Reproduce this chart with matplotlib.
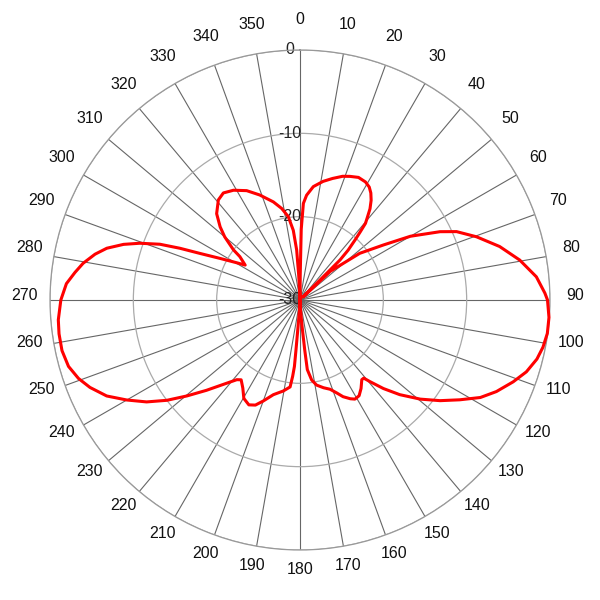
import numpy as np
import matplotlib.pyplot as plt
from matplotlib.transforms import offset_copy

plt.rcParams['font.family'] = ['Liberation Sans', 'DejaVu Sans']

# pattern (degrees, dB)
angles = [0, 0.5, 1, 2, 3.6, 6.7, 11, 15, 19, 22, 25.5, 29, 31.5, 33.5, 35.5,
          37.5, 39, 40.5, 41.5, 42.5, 44, 45, 45.7, 46.5, 52, 56.6, 60, 64,
          66.4, 70.3, 75, 79.7, 84.4, 88.4, 90, 94, 97.7, 101, 104, 107.6, 111,
          115, 118.4, 122, 125.7, 129.5, 133.5, 136.7, 139.4, 140.8, 142.2,
          145.4, 148.3, 151, 153, 156, 158.4, 161.4, 165, 169, 171.7, 174,
          174.6, 175.5, 177.5, 180, 182.5, 184.2, 184.6, 184.8, 185.5, 186.5,
          190.4, 195.7, 200, 203, 206, 209.7, 213, 216.4, 218.4, 222.3, 226,
          229.7, 233, 236.4, 240, 243.6, 247.4, 250.5, 254, 258, 262, 265.3,
          270, 274, 277, 279.6, 282.6, 285, 287.5, 289.5, 291.7, 293.3, 295,
          297.5, 300.5, 302.5, 305.8, 307, 310, 312.5, 316, 320.8, 324.4,
          328.8, 334, 339, 344.8, 348.7, 352, 354.5, 356.2, 357, 358.5, 360]
gain_db = [-30, -27, -21.5, -18.4, -17.4, -16.3, -15.5, -14.9, -14.3, -14.0,
           -13.7, -13.8, -14.1, -14.6, -15.3, -16.2, -17.1, -17.9, -19.1, -20.2,
           -21.7, -23.2, -29.5, -25, -20.9, -18.0, -14.7, -11.3, -9.5, -7.5,
           -5.2, -3.2, -1.5, -0.6, -0.3, -0.05, -0.05, -0.3, -0.7, -1.5, -2.6,
           -4.0, -5.4, -7.4, -9.3, -11.3, -13.5, -15.4, -17.1, -17.9, -17.9,
           -17.1, -16.5, -16.4, -16.7, -17.3, -18.0, -18.7, -19.1, -19.6,
           -20.3, -21.6, -24, -26.8, -29, -30, -29, -26.8, -24, -22, -20.8,
           -19.5, -18.9, -18.2, -17.1, -16.3, -16.0, -16.4, -17.4, -18.1,
           -17.8, -16.3, -14.4, -12.2, -10.0, -7.9, -6.0, -4.1, -2.7, -1.8,
           -1.1, -0.8, -0.8, -0.9, -1.3, -1.9, -2.8, -3.6, -4.8, -6.0, -7.8,
           -9.6, -11.9, -14.3, -16.8, -19.2, -21.2, -22.2, -21.1, -20.0, -18.2,
           -17.0, -15.6, -14.5, -14.2, -14.6, -15.4, -16.5, -17.8, -18.8, -19.9,
           -21.6, -24, -27, -29.5, -30]

angle_ticks = np.arange(0, 360, 10)
ring_values = [0, -10, -20, -30]

fig = plt.figure(figsize=(6, 6), dpi=100)
ax = fig.add_axes([50/600, 50/600, 500/600, 500/600], projection='polar')
ax.set_theta_zero_location('N')
ax.set_theta_direction(-1)
ax.set_ylim(-30, 0)

ax.set_xticks(np.deg2rad(angle_ticks))
ax.set_xticklabels([])
ax.set_yticks(ring_values)
ax.set_yticklabels([])
ax.tick_params(length=0)
ax.xaxis.grid(True, color='#666666', lw=0.8)
ax.yaxis.grid(True, color='#aaaaaa', lw=0.9)
ax.spines['polar'].set_color('#999999')
ax.spines['polar'].set_linewidth(0.9)

# angle labels
lab_tr = offset_copy(ax.transData, fig=fig, x=0, y=5, units='dots')
for a in angle_ticks:
    ax.text(np.deg2rad(a), 3.0, str(a), transform=lab_tr, ha='center',
            va='center', fontsize=11.5, color='#111111')

# ring labels
ring_tr = offset_copy(ax.transData, fig=fig, x=-10, y=0, units='dots')
for v in ring_values:
    ax.text(0, v, str(v), transform=ring_tr, ha='center', va='center',
            fontsize=11.5, color='#222222', zorder=1.6)

ax.plot(np.deg2rad(angles), gain_db, color='#ff0000', lw=2.2, zorder=3,
        clip_on=False)

fig.savefig('out.png', dpi=100)
